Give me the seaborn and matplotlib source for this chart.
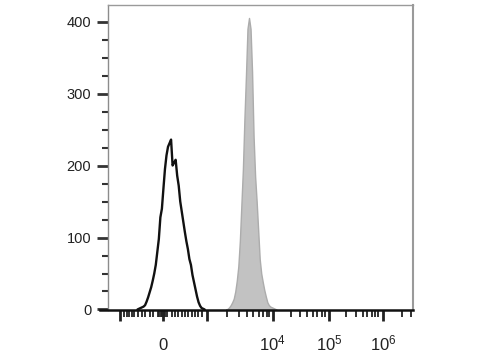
import matplotlib
matplotlib.use("Agg")
import matplotlib.pyplot as plt
import seaborn as sns
import numpy as np
import pandas as pd

# ---------------- data (channel units 0..1024) ----------------
bin_width = 5.0
ctrl_centers = [122.5, 127.5, 132.5, 137.5, 142.5, 147.5, 152.5, 157.5, 162.5, 167.5,
                172.5, 177.5, 182.5, 187.5, 192.5, 197.5, 202.5, 207.5, 212.5, 217.5,
                222.5, 227.5, 232.5, 237.5, 242.5, 247.5, 252.5, 257.5, 262.5, 267.5,
                272.5, 277.5, 282.5, 287.5, 292.5, 297.5, 302.5, 307.5, 312.5, 317.5,
                322.5, 327.5, 332.5, 337.5, 342.5]
ctrl_counts = [0, 1, 2, 3, 4, 6, 11, 17, 24, 31,
               40, 50, 62, 80, 98, 128, 140, 168, 195, 214,
               226, 231, 236, 200, 204, 208, 186, 172, 150, 136,
               122, 108, 95, 84, 70, 62, 48, 38, 28, 18,
               10, 5, 2, 1, 0]

stain_centers = [412.5, 417.5, 422.5, 427.5, 432.5, 437.5, 442.5, 447.5, 452.5, 457.5,
                 462.5, 467.5, 472.5, 477.5, 482.5, 487.5, 492.5, 497.5, 502.5, 507.5,
                 512.5, 517.5, 522.5, 527.5, 532.5, 537.5, 542.5, 547.5, 552.5, 557.5,
                 562.5, 567.5, 572.5, 577.5]
stain_counts = [0, 1, 3, 6, 10, 15, 25, 40, 60, 95,
                145, 195, 265, 325, 390, 405, 390, 330, 240, 185,
                150, 110, 70, 50, 38, 27, 18, 10, 6, 4,
                3, 2, 1, 0]

x_labels = ["", "0", "", "$10^4$", "$10^5$", "$10^6$"]
y_ticks = [0, 100, 200, 300, 400]

# ---------------- axis geometry helpers ----------------
def px2ch(p):
    return (p - 100.0) * 1024.0 / 313.0

major_px = [120, 163, 206.7, 272.7, 329.3, 383.3]
minor_px = [124.3, 126.7, 129.3, 131.7, 134.3, 138.3, 141.7, 145, 150, 153.3,
            157.8, 159.3, 160.8, 162.3, 163.8, 165.3, 166.8,
            171.7, 175, 178.3, 181.7, 185, 188.3, 191.7, 195, 198.3, 201.7,
            227.3, 239.3, 247.3, 253.3, 259.3, 262.7, 266.7, 269.3,
            290.7, 300, 307.3, 313.3, 317.3, 321.7, 325,
            346, 356, 362.7, 367.3, 371.7, 375, 378.3,
            401.7, 410.7]

# ---------------- plotting ----------------
sns.set_style("ticks")
plt.rcParams["font.family"] = ["Liberation Sans", "DejaVu Sans"]
plt.rcParams["mathtext.fontset"] = "custom"
plt.rcParams["mathtext.rm"] = "Liberation Sans"
plt.rcParams["mathtext.it"] = "Liberation Sans"

fig = plt.figure(figsize=(4.8, 3.6), dpi=100)
ax = fig.add_axes([100 / 480, 50 / 360, 313 / 480, 305 / 360])

stain_df = pd.DataFrame({"ch": stain_centers, "count": stain_counts})
ctrl_df = pd.DataFrame({"ch": ctrl_centers, "count": ctrl_counts})

stain_edges = [c - bin_width / 2 for c in stain_centers] + [stain_centers[-1] + bin_width / 2]
ctrl_edges = [c - bin_width / 2 for c in ctrl_centers] + [ctrl_centers[-1] + bin_width / 2]

sns.histplot(data=stain_df, x="ch", weights="count", bins=stain_edges, element="poly",
             fill=True, color="#c2c2c2", alpha=1.0, edgecolor="#acacac", linewidth=1.0, ax=ax)
sns.histplot(data=ctrl_df, x="ch", weights="count", bins=ctrl_edges, element="poly",
             fill=False, color="#111111", linewidth=1.7, ax=ax)

ax.set_xlim(0, 1024)
ax.set_ylim(-0.7, 423)
ax.set_xlabel("")
ax.set_ylabel("")

# y axis
ax.set_yticks(y_ticks)
ax.set_yticklabels([str(v) for v in y_ticks])
ax.set_yticks(np.arange(0, 401, 25), minor=True)
ax.tick_params(axis="y", which="major", length=8, width=2.0, color="#333333",
               labelsize=10.5, pad=4, labelcolor="#222222")
ax.tick_params(axis="y", which="minor", length=4, width=1.5, color="#333333")

# x axis
ax.set_xticks([px2ch(p) for p in major_px])
ax.set_xticklabels(x_labels)
ax.set_xticks([px2ch(p) for p in minor_px], minor=True)
ax.tick_params(axis="x", which="major", length=8, width=2.0, color="#222222",
               labelsize=12, pad=21, labelcolor="#222222")
ax.tick_params(axis="x", which="minor", length=5, width=1.3, color="#222222")
for lbl in ax.get_xticklabels():
    lbl.set_va("baseline")

# spines
ax.spines["left"].set_position(("axes", 8 / 313))
ax.spines["left"].set_color("#8c8c8c")
ax.spines["left"].set_linewidth(1.0)
ax.spines["bottom"].set_color("#111111")
ax.spines["bottom"].set_linewidth(1.8)
ax.spines["top"].set_color("#9a9a9a")
ax.spines["top"].set_linewidth(1.0)
ax.spines["top"].set_bounds(px2ch(108), 1024)
ax.spines["right"].set_color("#9a9a9a")
ax.spines["right"].set_linewidth(1.5)
ax.spines["top"].set_visible(True)
ax.spines["right"].set_visible(True)

fig.savefig("out.png", dpi=100)
